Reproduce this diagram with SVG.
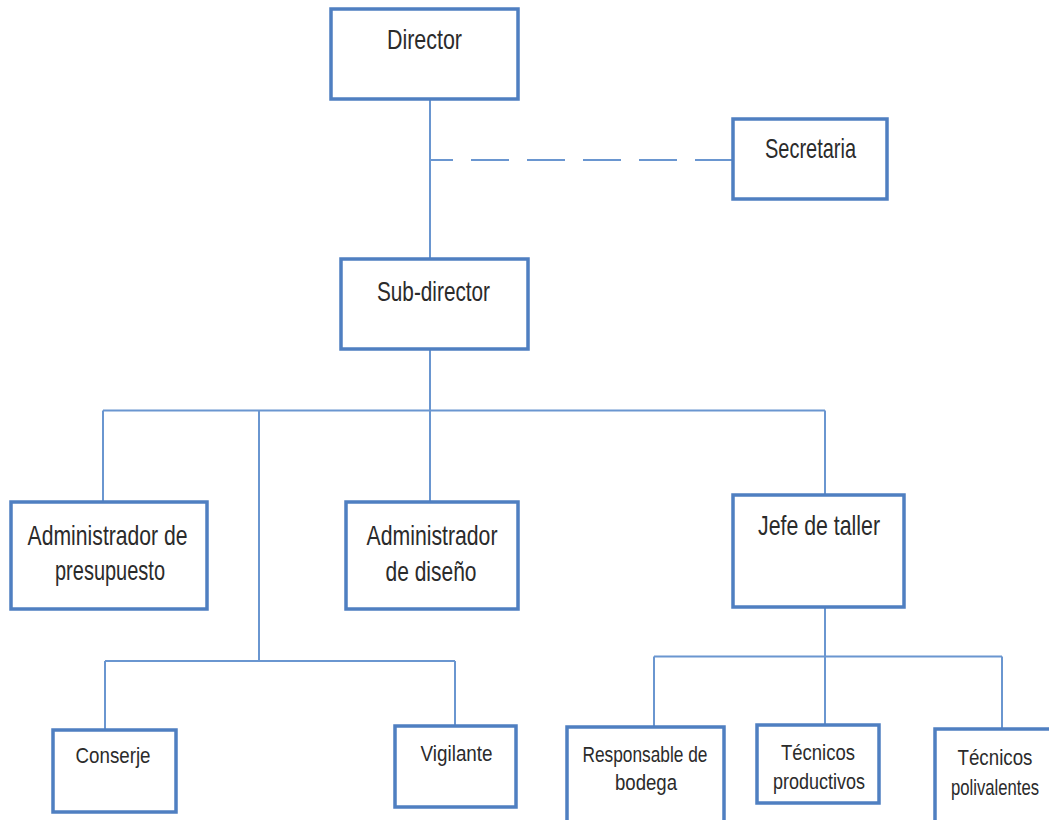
<svg xmlns="http://www.w3.org/2000/svg" width="1049" height="820" viewBox="0 0 1049 820">
<style>
.box{fill:#ffffff;stroke:#4f7fc1;stroke-width:3.5}
.ln{fill:none;stroke:#6a96d0;stroke-width:2}
.dash{stroke-dasharray:38 18}
text{font-family:"Liberation Sans",Arial,sans-serif;fill:#2b2b2b;text-anchor:middle}
.t1{font-size:28px}
.t2{font-size:22px}
</style>
<rect width="1049" height="820" fill="#ffffff"/>
<g id="connectors">
<path class="ln" d="M430 99V259"/>
<path class="ln dash" d="M733 160H430"/>
<path class="ln" d="M430 349V410.5M103 410.5H825M103 410.5V502M430 410.5V502M825 410.5V495M259 410.5V661M105 661H455M105 661V730M455 661V726"/>
<path class="ln" d="M825 607V725M654 656.5H1002M654 656.5V727M1002 656.5V729"/>
</g>
<g id="director"><rect class="box" x="331" y="9" width="187" height="90"/><text class="t1" x="424.5" y="49" textLength="75" lengthAdjust="spacingAndGlyphs">Director</text></g>
<g id="secretaria"><rect class="box" x="733" y="119" width="154" height="80"/><text class="t1" x="810.5" y="158" textLength="91" lengthAdjust="spacingAndGlyphs">Secretaria</text></g>
<g id="subdirector"><rect class="box" x="341" y="259" width="187" height="90"/><text class="t1" x="433.5" y="301" textLength="113" lengthAdjust="spacingAndGlyphs">Sub-director</text></g>
<g id="adm-presupuesto"><rect class="box" x="11" y="502" width="196" height="107"/><text class="t1" x="107.6" y="545" textLength="160" lengthAdjust="spacingAndGlyphs">Administrador de</text><text class="t1" x="110" y="580" textLength="110" lengthAdjust="spacingAndGlyphs">presupuesto</text></g>
<g id="adm-diseno"><rect class="box" x="346" y="502" width="172" height="107"/><text class="t1" x="432" y="545" textLength="131" lengthAdjust="spacingAndGlyphs">Administrador</text><text class="t1" x="431" y="581" textLength="91" lengthAdjust="spacingAndGlyphs">de diseño</text></g>
<g id="jefe-taller"><rect class="box" x="733" y="495" width="171" height="112"/><text class="t1" x="819" y="535" textLength="122" lengthAdjust="spacingAndGlyphs">Jefe de taller</text></g>
<g id="conserje"><rect class="box" x="53" y="730" width="123" height="82"/><text class="t2" x="113" y="763" textLength="75" lengthAdjust="spacingAndGlyphs">Conserje</text></g>
<g id="vigilante"><rect class="box" x="395" y="726" width="121" height="81"/><text class="t2" x="456.6" y="761" textLength="72" lengthAdjust="spacingAndGlyphs">Vigilante</text></g>
<g id="responsable-bodega"><rect class="box" x="567" y="727" width="157" height="103"/><text class="t2" x="645" y="762" textLength="125" lengthAdjust="spacingAndGlyphs">Responsable de</text><text class="t2" x="646" y="790" textLength="62" lengthAdjust="spacingAndGlyphs">bodega</text></g>
<g id="tecnicos-productivos"><rect class="box" x="757" y="725" width="122" height="78"/><text class="t2" x="818" y="760" textLength="74" lengthAdjust="spacingAndGlyphs">Técnicos</text><text class="t2" x="819" y="789" textLength="92" lengthAdjust="spacingAndGlyphs">productivos</text></g>
<g id="tecnicos-polivalentes"><rect class="box" x="935" y="729" width="125" height="101"/><text class="t2" x="995" y="765" textLength="75" lengthAdjust="spacingAndGlyphs">Técnicos</text><text class="t2" x="995" y="795" textLength="88" lengthAdjust="spacingAndGlyphs">polivalentes</text></g>
</svg>
